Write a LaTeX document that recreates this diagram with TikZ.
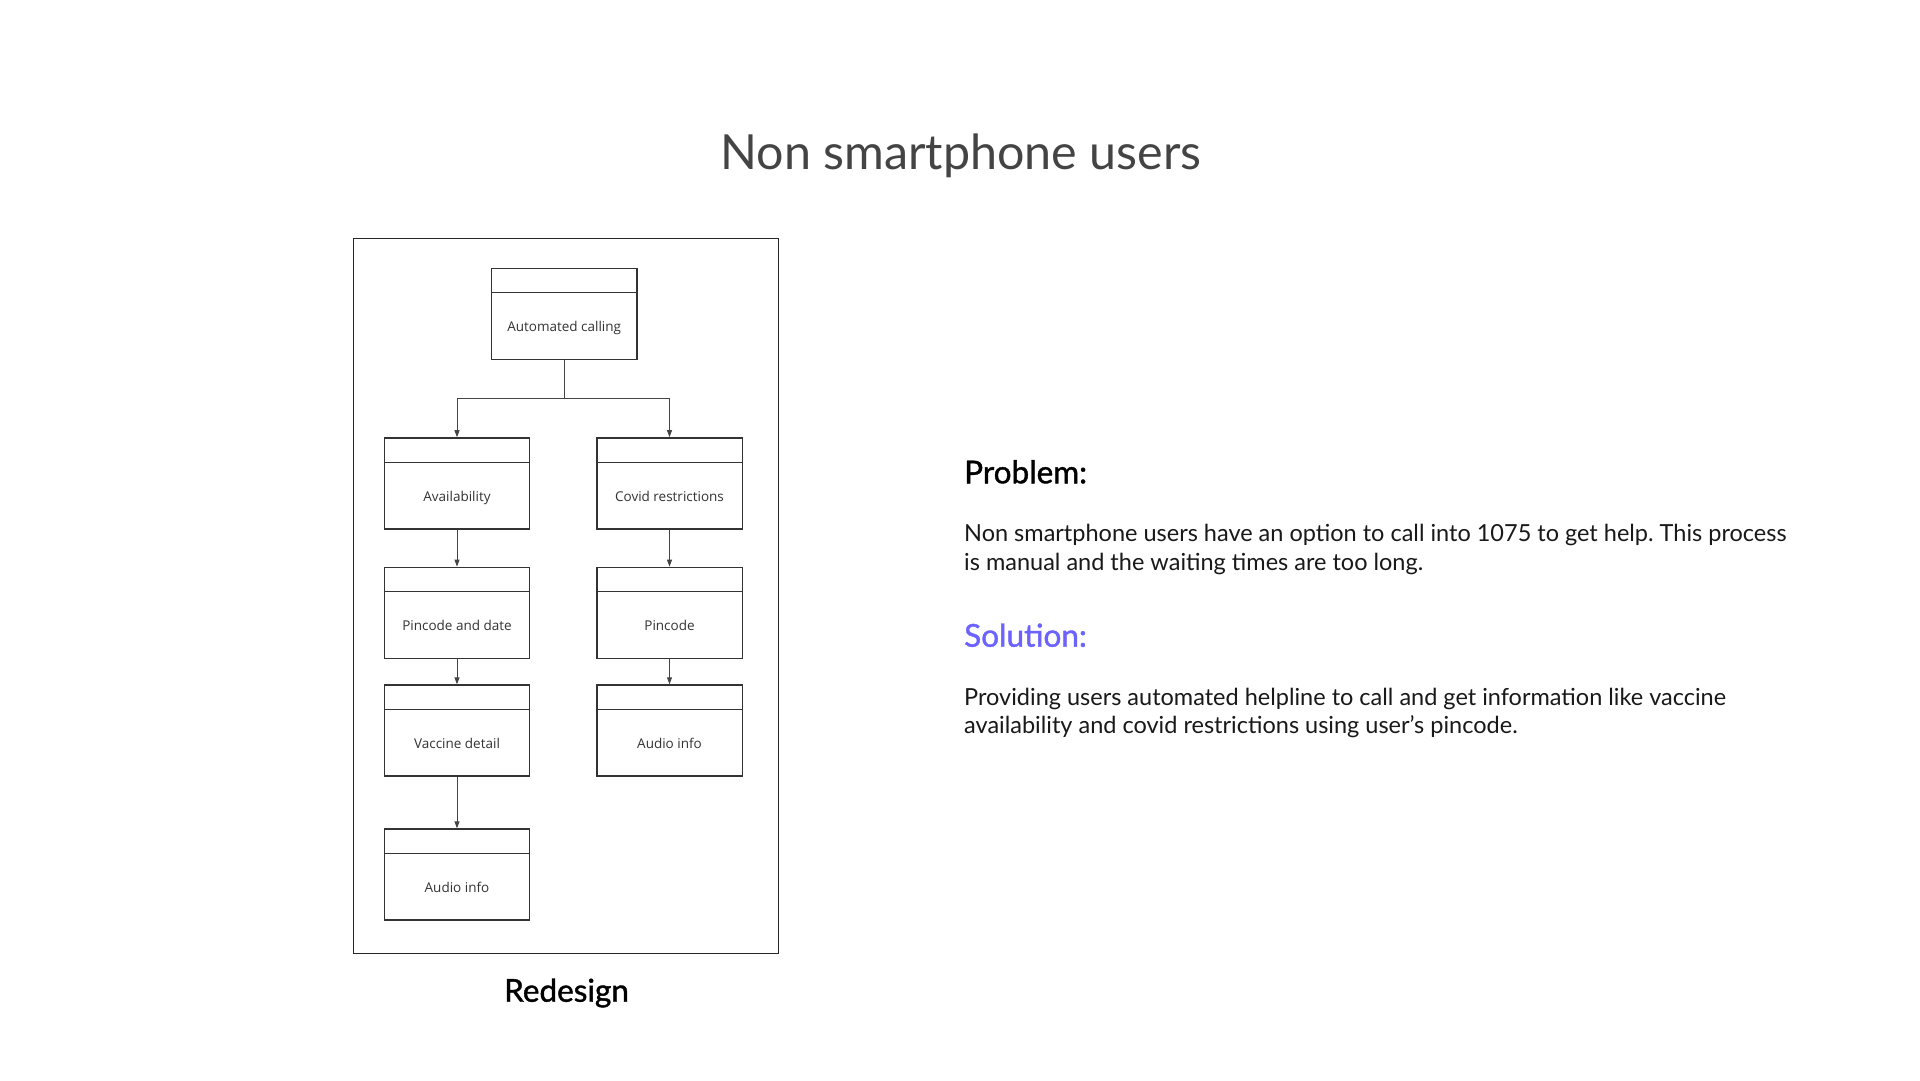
\documentclass[tikz,border=0pt]{standalone}
\usepackage{fontspec}
\setmainfont{Lato}
\newfontfamily\boxfont{Open Sans}
\newfontfamily\headfont[FakeBold = 1.3]{Lato}
\usetikzlibrary{arrows.meta}
\definecolor{titlegray}{HTML}{444444}
\definecolor{boxgray}{HTML}{333333}
\definecolor{solpurple}{HTML}{6C63FF}
\frenchspacing

\tikzset{
    screen/.style = {draw = boxgray, line width = 1.4pt,
        minimum width = 145.4pt, minimum height = 91pt,
        text height = 38pt, text depth = 2.7pt, text = boxgray,
        font = \boxfont\fontsize{13.5}{16}\selectfont,
        path picture = {\draw[boxgray, line width = 1.4pt]
            ([yshift = -24.3pt]path picture bounding box.north west) --
            ([yshift = -24.3pt]path picture bounding box.north east);}},
    flow/.style = {draw = titlegray, line width = 0.9pt,
        -{Triangle[length = 7pt, width = 5pt]}},
    body/.style = {anchor = base west, inner sep = 0pt,
        font = \fontsize{23.5}{28}\selectfont, text = black!90},
    heading/.style = {anchor = base west, inner sep = 0pt,
        font = \headfont\fontsize{31.5}{36}\selectfont}
}

\begin{document}
\begin{tikzpicture}[x = 1pt, y = -1pt]
    \useasboundingbox[fill = white] (0,0) rectangle (1920,1080);

    % title
    \node[anchor = base, inner sep = 0pt, text = titlegray,
        font = \fontsize{48.4}{58}\selectfont] (title) at (961,169.5) {Non smartphone users};

    % redesign frame
    \draw[black!85, line width = 0.9pt] (353.3,238.3) rectangle (778.3,953.3);
    \node[anchor = base, inner sep = 0pt, font = \headfont\fontsize{31.5}{36}\selectfont]
        (redesign) at (566.5,1001.7) {Redesign};

    % flow boxes
    \node[screen] (call)    at (564.2,313.7) {Automated calling};
    \node[screen] (avail)   at (457.0,483.4) {Availability};
    \node[screen] (covid)   at (669.5,483.4) {Covid restrictions};
    \node[screen] (pindate) at (457.0,612.8) {Pincode and date};
    \node[screen] (pin)     at (669.5,612.8) {Pincode};
    \node[screen] (vaccine) at (457.0,730.5) {Vaccine detail};
    \node[screen] (audioR)  at (669.5,730.5) {Audio info};
    \node[screen] (audioL)  at (457.0,874.5) {Audio info};

    % connectors
    \coordinate (split) at (564.2,398.3);
    \draw[flow] (call.south) -- (split) -| (avail.north);
    \draw[flow] (split) -| (covid.north);
    \draw[flow] (avail) -- (pindate);
    \draw[flow] (pindate) -- (vaccine);
    \draw[flow] (vaccine) -- (audioL);
    \draw[flow] (covid) -- (pin);
    \draw[flow] (pin) -- (audioR);

    % problem and solution
    \node[heading] (problem) at (964,483.3) {Problem:};
    \node[body] (prob1) at (964,541.7) {Non smartphone users have an option to call into 1075 to get help. This process};
    \node[body] (prob2) at (964,570.7) {is manual and the waiting times are too long.};
    \node[heading, text = solpurple] (solution) at (964,646.7) {Solution:};
    \node[body] (sol1) at (964,705.0) {Providing users automated helpline to call and get information like vaccine};
    \node[body] (sol2) at (964,733.3) {availability and covid restrictions using user’s pincode.};
\end{tikzpicture}
\end{document}
